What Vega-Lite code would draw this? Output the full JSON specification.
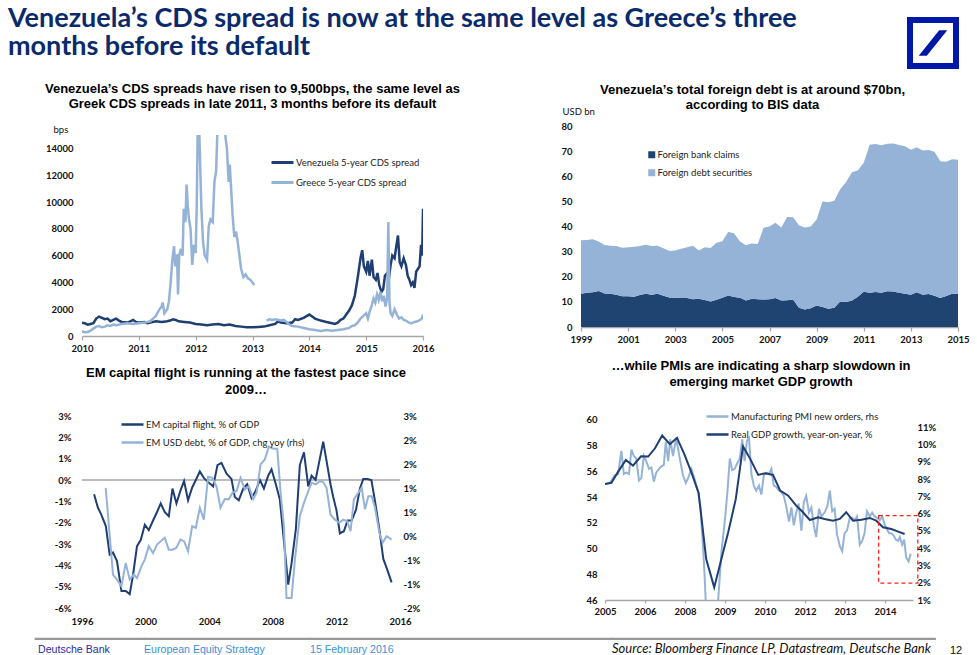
{
  "$schema": "https://vega.github.io/schema/vega-lite/v6.json",
  "background": "white",
  "padding": {"left": 2, "top": 5, "right": 4, "bottom": 4},
  "config": {
    "view": {"stroke": null},
    "font": "Lato",
    "axis": {"labelFont": "Lato", "labelFontWeight": "bold", "labelFontSize": 9.5, "labelColor": "#111111", "grid": false, "domainColor": "#a6a6a6", "domainWidth": 1.5, "tickColor": "#a6a6a6", "tickWidth": 1.2, "titleFont": "Lato", "titleFontWeight": "normal", "titleFontSize": 9.5, "titleColor": "#111111"},
    "legend": {"labelFont": "Lato", "labelFontSize": 9.5, "labelColor": "#222222", "padding": 0, "labelOffset": 1},
    "title": {"font": "Liberation Sans", "fontWeight": "bold", "fontSize": 13, "color": "#000000", "baseline": "bottom", "frame": "group"}
  },
  "datasets": {
    "cds": [
      {"series":"Venezuela 5-year CDS spread","year":2010.0,"bps":1000},{"series":"Venezuela 5-year CDS spread","year":2010.05,"bps":950},{"series":"Venezuela 5-year CDS spread","year":2010.1,"bps":850},{"series":"Venezuela 5-year CDS spread","year":2010.15,"bps":900},{"series":"Venezuela 5-year CDS spread","year":2010.2,"bps":950},{"series":"Venezuela 5-year CDS spread","year":2010.25,"bps":1300},{"series":"Venezuela 5-year CDS spread","year":2010.3,"bps":1450},{"series":"Venezuela 5-year CDS spread","year":2010.35,"bps":1350},{"series":"Venezuela 5-year CDS spread","year":2010.4,"bps":1250},{"series":"Venezuela 5-year CDS spread","year":2010.45,"bps":1300},{"series":"Venezuela 5-year CDS spread","year":2010.5,"bps":1100},{"series":"Venezuela 5-year CDS spread","year":2010.55,"bps":1200},{"series":"Venezuela 5-year CDS spread","year":2010.6,"bps":1300},{"series":"Venezuela 5-year CDS spread","year":2010.65,"bps":1150},{"series":"Venezuela 5-year CDS spread","year":2010.7,"bps":1050},{"series":"Venezuela 5-year CDS spread","year":2010.8,"bps":1000},{"series":"Venezuela 5-year CDS spread","year":2010.85,"bps":1100},{"series":"Venezuela 5-year CDS spread","year":2010.9,"bps":1200},{"series":"Venezuela 5-year CDS spread","year":2010.95,"bps":1050},{"series":"Venezuela 5-year CDS spread","year":2011.0,"bps":1000},{"series":"Venezuela 5-year CDS spread","year":2011.1,"bps":1050},{"series":"Venezuela 5-year CDS spread","year":2011.15,"bps":950},{"series":"Venezuela 5-year CDS spread","year":2011.2,"bps":1000},{"series":"Venezuela 5-year CDS spread","year":2011.3,"bps":1100},{"series":"Venezuela 5-year CDS spread","year":2011.4,"bps":1050},{"series":"Venezuela 5-year CDS spread","year":2011.5,"bps":1100},{"series":"Venezuela 5-year CDS spread","year":2011.55,"bps":1150},{"series":"Venezuela 5-year CDS spread","year":2011.6,"bps":1250},{"series":"Venezuela 5-year CDS spread","year":2011.65,"bps":1200},{"series":"Venezuela 5-year CDS spread","year":2011.7,"bps":1100},{"series":"Venezuela 5-year CDS spread","year":2011.8,"bps":1050},{"series":"Venezuela 5-year CDS spread","year":2011.9,"bps":1000},{"series":"Venezuela 5-year CDS spread","year":2012.0,"bps":900},{"series":"Venezuela 5-year CDS spread","year":2012.1,"bps":850},{"series":"Venezuela 5-year CDS spread","year":2012.2,"bps":800},{"series":"Venezuela 5-year CDS spread","year":2012.3,"bps":850},{"series":"Venezuela 5-year CDS spread","year":2012.4,"bps":900},{"series":"Venezuela 5-year CDS spread","year":2012.5,"bps":800},{"series":"Venezuela 5-year CDS spread","year":2012.6,"bps":850},{"series":"Venezuela 5-year CDS spread","year":2012.7,"bps":750},{"series":"Venezuela 5-year CDS spread","year":2012.8,"bps":700},{"series":"Venezuela 5-year CDS spread","year":2012.9,"bps":650},{"series":"Venezuela 5-year CDS spread","year":2013.0,"bps":650},{"series":"Venezuela 5-year CDS spread","year":2013.1,"bps":680},{"series":"Venezuela 5-year CDS spread","year":2013.2,"bps":700},{"series":"Venezuela 5-year CDS spread","year":2013.3,"bps":800},{"series":"Venezuela 5-year CDS spread","year":2013.4,"bps":900},{"series":"Venezuela 5-year CDS spread","year":2013.45,"bps":1100},{"series":"Venezuela 5-year CDS spread","year":2013.5,"bps":1000},{"series":"Venezuela 5-year CDS spread","year":2013.6,"bps":950},{"series":"Venezuela 5-year CDS spread","year":2013.7,"bps":1000},{"series":"Venezuela 5-year CDS spread","year":2013.75,"bps":1250},{"series":"Venezuela 5-year CDS spread","year":2013.8,"bps":1200},{"series":"Venezuela 5-year CDS spread","year":2013.9,"bps":1350},{"series":"Venezuela 5-year CDS spread","year":2014.0,"bps":1600},{"series":"Venezuela 5-year CDS spread","year":2014.05,"bps":1450},{"series":"Venezuela 5-year CDS spread","year":2014.1,"bps":1300},{"series":"Venezuela 5-year CDS spread","year":2014.2,"bps":1150},{"series":"Venezuela 5-year CDS spread","year":2014.3,"bps":1050},{"series":"Venezuela 5-year CDS spread","year":2014.4,"bps":950},{"series":"Venezuela 5-year CDS spread","year":2014.45,"bps":900},{"series":"Venezuela 5-year CDS spread","year":2014.5,"bps":1000},{"series":"Venezuela 5-year CDS spread","year":2014.55,"bps":1200},{"series":"Venezuela 5-year CDS spread","year":2014.6,"bps":1300},{"series":"Venezuela 5-year CDS spread","year":2014.65,"bps":1600},{"series":"Venezuela 5-year CDS spread","year":2014.7,"bps":1900},{"series":"Venezuela 5-year CDS spread","year":2014.75,"bps":2300},{"series":"Venezuela 5-year CDS spread","year":2014.8,"bps":3000},{"series":"Venezuela 5-year CDS spread","year":2014.83,"bps":3800},{"series":"Venezuela 5-year CDS spread","year":2014.86,"bps":4600},{"series":"Venezuela 5-year CDS spread","year":2014.9,"bps":5800},{"series":"Venezuela 5-year CDS spread","year":2014.93,"bps":6400},{"series":"Venezuela 5-year CDS spread","year":2014.96,"bps":5200},{"series":"Venezuela 5-year CDS spread","year":2015.0,"bps":4800},{"series":"Venezuela 5-year CDS spread","year":2015.03,"bps":5600},{"series":"Venezuela 5-year CDS spread","year":2015.06,"bps":4500},{"series":"Venezuela 5-year CDS spread","year":2015.1,"bps":5700},{"series":"Venezuela 5-year CDS spread","year":2015.13,"bps":4400},{"series":"Venezuela 5-year CDS spread","year":2015.17,"bps":4200},{"series":"Venezuela 5-year CDS spread","year":2015.2,"bps":4700},{"series":"Venezuela 5-year CDS spread","year":2015.23,"bps":3800},{"series":"Venezuela 5-year CDS spread","year":2015.27,"bps":3300},{"series":"Venezuela 5-year CDS spread","year":2015.3,"bps":3500},{"series":"Venezuela 5-year CDS spread","year":2015.33,"bps":4500},{"series":"Venezuela 5-year CDS spread","year":2015.37,"bps":4700},{"series":"Venezuela 5-year CDS spread","year":2015.4,"bps":4300},{"series":"Venezuela 5-year CDS spread","year":2015.43,"bps":5300},{"series":"Venezuela 5-year CDS spread","year":2015.46,"bps":6000},{"series":"Venezuela 5-year CDS spread","year":2015.5,"bps":5800},{"series":"Venezuela 5-year CDS spread","year":2015.53,"bps":6700},{"series":"Venezuela 5-year CDS spread","year":2015.56,"bps":7500},{"series":"Venezuela 5-year CDS spread","year":2015.59,"bps":5500},{"series":"Venezuela 5-year CDS spread","year":2015.62,"bps":5200},{"series":"Venezuela 5-year CDS spread","year":2015.66,"bps":5800},{"series":"Venezuela 5-year CDS spread","year":2015.7,"bps":5300},{"series":"Venezuela 5-year CDS spread","year":2015.73,"bps":4500},{"series":"Venezuela 5-year CDS spread","year":2015.76,"bps":4200},{"series":"Venezuela 5-year CDS spread","year":2015.79,"bps":3800},{"series":"Venezuela 5-year CDS spread","year":2015.82,"bps":4000},{"series":"Venezuela 5-year CDS spread","year":2015.85,"bps":3600},{"series":"Venezuela 5-year CDS spread","year":2015.88,"bps":4800},{"series":"Venezuela 5-year CDS spread","year":2015.91,"bps":5000},{"series":"Venezuela 5-year CDS spread","year":2015.94,"bps":5200},{"series":"Venezuela 5-year CDS spread","year":2015.965,"bps":6800},{"series":"Venezuela 5-year CDS spread","year":2015.985,"bps":6000},{"series":"Venezuela 5-year CDS spread","year":2016.0,"bps":9500},
      {"series":"Greece 5-year CDS spread","year":2010.0,"bps":350},{"series":"Greece 5-year CDS spread","year":2010.05,"bps":280},{"series":"Greece 5-year CDS spread","year":2010.1,"bps":300},{"series":"Greece 5-year CDS spread","year":2010.15,"bps":400},{"series":"Greece 5-year CDS spread","year":2010.2,"bps":550},{"series":"Greece 5-year CDS spread","year":2010.25,"bps":700},{"series":"Greece 5-year CDS spread","year":2010.3,"bps":750},{"series":"Greece 5-year CDS spread","year":2010.35,"bps":650},{"series":"Greece 5-year CDS spread","year":2010.4,"bps":700},{"series":"Greece 5-year CDS spread","year":2010.45,"bps":800},{"series":"Greece 5-year CDS spread","year":2010.5,"bps":750},{"series":"Greece 5-year CDS spread","year":2010.55,"bps":850},{"series":"Greece 5-year CDS spread","year":2010.6,"bps":800},{"series":"Greece 5-year CDS spread","year":2010.7,"bps":900},{"series":"Greece 5-year CDS spread","year":2010.8,"bps":950},{"series":"Greece 5-year CDS spread","year":2010.9,"bps":900},{"series":"Greece 5-year CDS spread","year":2011.0,"bps":950},{"series":"Greece 5-year CDS spread","year":2011.1,"bps":1000},{"series":"Greece 5-year CDS spread","year":2011.2,"bps":1100},{"series":"Greece 5-year CDS spread","year":2011.25,"bps":1300},{"series":"Greece 5-year CDS spread","year":2011.3,"bps":1500},{"series":"Greece 5-year CDS spread","year":2011.35,"bps":1900},{"series":"Greece 5-year CDS spread","year":2011.4,"bps":2200},{"series":"Greece 5-year CDS spread","year":2011.42,"bps":2500},{"series":"Greece 5-year CDS spread","year":2011.45,"bps":1700},{"series":"Greece 5-year CDS spread","year":2011.5,"bps":2000},{"series":"Greece 5-year CDS spread","year":2011.53,"bps":2600},{"series":"Greece 5-year CDS spread","year":2011.56,"bps":4000},{"series":"Greece 5-year CDS spread","year":2011.59,"bps":5700},{"series":"Greece 5-year CDS spread","year":2011.62,"bps":6700},{"series":"Greece 5-year CDS spread","year":2011.64,"bps":5200},{"series":"Greece 5-year CDS spread","year":2011.67,"bps":6100},{"series":"Greece 5-year CDS spread","year":2011.69,"bps":3100},{"series":"Greece 5-year CDS spread","year":2011.71,"bps":6000},{"series":"Greece 5-year CDS spread","year":2011.74,"bps":6500},{"series":"Greece 5-year CDS spread","year":2011.77,"bps":6000},{"series":"Greece 5-year CDS spread","year":2011.79,"bps":9500},{"series":"Greece 5-year CDS spread","year":2011.82,"bps":8500},{"series":"Greece 5-year CDS spread","year":2011.84,"bps":11300},{"series":"Greece 5-year CDS spread","year":2011.86,"bps":9800},{"series":"Greece 5-year CDS spread","year":2011.88,"bps":8800},{"series":"Greece 5-year CDS spread","year":2011.91,"bps":8000},{"series":"Greece 5-year CDS spread","year":2011.94,"bps":5300},{"series":"Greece 5-year CDS spread","year":2011.97,"bps":6800},{"series":"Greece 5-year CDS spread","year":2012.0,"bps":6200},{"series":"Greece 5-year CDS spread","year":2012.02,"bps":10000},{"series":"Greece 5-year CDS spread","year":2012.035,"bps":15000},{"series":"Greece 5-year CDS spread","year":2012.05,"bps":null},{"series":"Greece 5-year CDS spread","year":2012.065,"bps":15000},{"series":"Greece 5-year CDS spread","year":2012.1,"bps":9600},{"series":"Greece 5-year CDS spread","year":2012.13,"bps":7000},{"series":"Greece 5-year CDS spread","year":2012.16,"bps":6000},{"series":"Greece 5-year CDS spread","year":2012.2,"bps":5700},{"series":"Greece 5-year CDS spread","year":2012.23,"bps":8200},{"series":"Greece 5-year CDS spread","year":2012.26,"bps":8700},{"series":"Greece 5-year CDS spread","year":2012.3,"bps":8500},{"series":"Greece 5-year CDS spread","year":2012.33,"bps":11500},{"series":"Greece 5-year CDS spread","year":2012.36,"bps":12300},{"series":"Greece 5-year CDS spread","year":2012.38,"bps":15000},{"series":"Greece 5-year CDS spread","year":2012.45,"bps":null},{"series":"Greece 5-year CDS spread","year":2012.52,"bps":15000},{"series":"Greece 5-year CDS spread","year":2012.55,"bps":14000},{"series":"Greece 5-year CDS spread","year":2012.58,"bps":11500},{"series":"Greece 5-year CDS spread","year":2012.6,"bps":12800},{"series":"Greece 5-year CDS spread","year":2012.62,"bps":11300},{"series":"Greece 5-year CDS spread","year":2012.65,"bps":9000},{"series":"Greece 5-year CDS spread","year":2012.68,"bps":7400},{"series":"Greece 5-year CDS spread","year":2012.71,"bps":7800},{"series":"Greece 5-year CDS spread","year":2012.74,"bps":7000},{"series":"Greece 5-year CDS spread","year":2012.77,"bps":6000},{"series":"Greece 5-year CDS spread","year":2012.8,"bps":5000},{"series":"Greece 5-year CDS spread","year":2012.84,"bps":4400},{"series":"Greece 5-year CDS spread","year":2012.88,"bps":4600},{"series":"Greece 5-year CDS spread","year":2012.92,"bps":4300},{"series":"Greece 5-year CDS spread","year":2012.96,"bps":4200},{"series":"Greece 5-year CDS spread","year":2013.0,"bps":4000},{"series":"Greece 5-year CDS spread","year":2013.03,"bps":3800},{"series":"Greece 5-year CDS spread","year":2013.15,"bps":null},{"series":"Greece 5-year CDS spread","year":2013.25,"bps":1150},{"series":"Greece 5-year CDS spread","year":2013.3,"bps":1250},{"series":"Greece 5-year CDS spread","year":2013.35,"bps":1200},{"series":"Greece 5-year CDS spread","year":2013.4,"bps":1250},{"series":"Greece 5-year CDS spread","year":2013.5,"bps":1150},{"series":"Greece 5-year CDS spread","year":2013.55,"bps":1200},{"series":"Greece 5-year CDS spread","year":2013.6,"bps":1050},{"series":"Greece 5-year CDS spread","year":2013.65,"bps":850},{"series":"Greece 5-year CDS spread","year":2013.7,"bps":750},{"series":"Greece 5-year CDS spread","year":2013.8,"bps":700},{"series":"Greece 5-year CDS spread","year":2013.9,"bps":600},{"series":"Greece 5-year CDS spread","year":2014.0,"bps":500},{"series":"Greece 5-year CDS spread","year":2014.1,"bps":450},{"series":"Greece 5-year CDS spread","year":2014.2,"bps":380},{"series":"Greece 5-year CDS spread","year":2014.3,"bps":450},{"series":"Greece 5-year CDS spread","year":2014.4,"bps":400},{"series":"Greece 5-year CDS spread","year":2014.5,"bps":450},{"series":"Greece 5-year CDS spread","year":2014.6,"bps":500},{"series":"Greece 5-year CDS spread","year":2014.7,"bps":600},{"series":"Greece 5-year CDS spread","year":2014.75,"bps":750},{"series":"Greece 5-year CDS spread","year":2014.8,"bps":800},{"series":"Greece 5-year CDS spread","year":2014.85,"bps":1000},{"series":"Greece 5-year CDS spread","year":2014.9,"bps":1300},{"series":"Greece 5-year CDS spread","year":2014.95,"bps":1500},{"series":"Greece 5-year CDS spread","year":2015.0,"bps":1700},{"series":"Greece 5-year CDS spread","year":2015.03,"bps":1300},{"series":"Greece 5-year CDS spread","year":2015.06,"bps":1800},{"series":"Greece 5-year CDS spread","year":2015.1,"bps":2300},{"series":"Greece 5-year CDS spread","year":2015.13,"bps":2800},{"series":"Greece 5-year CDS spread","year":2015.16,"bps":2500},{"series":"Greece 5-year CDS spread","year":2015.19,"bps":3100},{"series":"Greece 5-year CDS spread","year":2015.22,"bps":2700},{"series":"Greece 5-year CDS spread","year":2015.25,"bps":3300},{"series":"Greece 5-year CDS spread","year":2015.28,"bps":2600},{"series":"Greece 5-year CDS spread","year":2015.31,"bps":3000},{"series":"Greece 5-year CDS spread","year":2015.34,"bps":2200},{"series":"Greece 5-year CDS spread","year":2015.37,"bps":2900},{"series":"Greece 5-year CDS spread","year":2015.39,"bps":8500},{"series":"Greece 5-year CDS spread","year":2015.41,"bps":2500},{"series":"Greece 5-year CDS spread","year":2015.43,"bps":1700},{"series":"Greece 5-year CDS spread","year":2015.46,"bps":1500},{"series":"Greece 5-year CDS spread","year":2015.5,"bps":2000},{"series":"Greece 5-year CDS spread","year":2015.54,"bps":1600},{"series":"Greece 5-year CDS spread","year":2015.58,"bps":1300},{"series":"Greece 5-year CDS spread","year":2015.62,"bps":1400},{"series":"Greece 5-year CDS spread","year":2015.66,"bps":1200},{"series":"Greece 5-year CDS spread","year":2015.7,"bps":1150},{"series":"Greece 5-year CDS spread","year":2015.75,"bps":1000},{"series":"Greece 5-year CDS spread","year":2015.8,"bps":950},{"series":"Greece 5-year CDS spread","year":2015.85,"bps":1050},{"series":"Greece 5-year CDS spread","year":2015.9,"bps":1100},{"series":"Greece 5-year CDS spread","year":2015.95,"bps":1200},{"series":"Greece 5-year CDS spread","year":2015.98,"bps":1300},{"series":"Greece 5-year CDS spread","year":2016.0,"bps":1600}
    ],
    "debt": [
      {"year":1999.0,"Foreign bank claims":13.2,"Foreign debt securities":21.3},{"year":1999.25,"Foreign bank claims":13.6,"Foreign debt securities":21.0},{"year":1999.5,"Foreign bank claims":13.8,"Foreign debt securities":21.1},{"year":1999.75,"Foreign bank claims":14.3,"Foreign debt securities":19.7},{"year":2000.0,"Foreign bank claims":13.3,"Foreign debt securities":19.3},{"year":2000.25,"Foreign bank claims":13.2,"Foreign debt securities":19.1},{"year":2000.5,"Foreign bank claims":12.8,"Foreign debt securities":19.4},{"year":2000.75,"Foreign bank claims":12.2,"Foreign debt securities":19.3},{"year":2001.0,"Foreign bank claims":12.2,"Foreign debt securities":19.5},{"year":2001.25,"Foreign bank claims":12.0,"Foreign debt securities":19.9},{"year":2001.5,"Foreign bank claims":12.7,"Foreign debt securities":19.5},{"year":2001.75,"Foreign bank claims":13.2,"Foreign debt securities":19.5},{"year":2002.0,"Foreign bank claims":12.8,"Foreign debt securities":19.4},{"year":2002.25,"Foreign bank claims":13.2,"Foreign debt securities":19.1},{"year":2002.5,"Foreign bank claims":12.4,"Foreign debt securities":18.9},{"year":2002.75,"Foreign bank claims":11.7,"Foreign debt securities":18.5},{"year":2003.0,"Foreign bank claims":11.6,"Foreign debt securities":18.8},{"year":2003.25,"Foreign bank claims":11.5,"Foreign debt securities":19.6},{"year":2003.5,"Foreign bank claims":11.5,"Foreign debt securities":20.2},{"year":2003.75,"Foreign bank claims":11.0,"Foreign debt securities":21.3},{"year":2004.0,"Foreign bank claims":11.2,"Foreign debt securities":19.2},{"year":2004.25,"Foreign bank claims":10.7,"Foreign debt securities":21.0},{"year":2004.5,"Foreign bank claims":10.1,"Foreign debt securities":21.3},{"year":2004.75,"Foreign bank claims":10.8,"Foreign debt securities":22.7},{"year":2005.0,"Foreign bank claims":11.6,"Foreign debt securities":22.5},{"year":2005.25,"Foreign bank claims":12.5,"Foreign debt securities":25.4},{"year":2005.5,"Foreign bank claims":11.9,"Foreign debt securities":25.3},{"year":2005.75,"Foreign bank claims":11.6,"Foreign debt securities":22.4},{"year":2006.0,"Foreign bank claims":10.5,"Foreign debt securities":22.0},{"year":2006.25,"Foreign bank claims":11.2,"Foreign debt securities":22.0},{"year":2006.5,"Foreign bank claims":11.0,"Foreign debt securities":22.0},{"year":2006.75,"Foreign bank claims":10.9,"Foreign debt securities":28.6},{"year":2007.0,"Foreign bank claims":11.0,"Foreign debt securities":29.0},{"year":2007.25,"Foreign bank claims":11.5,"Foreign debt securities":30.0},{"year":2007.5,"Foreign bank claims":10.5,"Foreign debt securities":29.1},{"year":2007.75,"Foreign bank claims":10.6,"Foreign debt securities":33.2},{"year":2008.0,"Foreign bank claims":10.9,"Foreign debt securities":32.8},{"year":2008.25,"Foreign bank claims":7.7,"Foreign debt securities":32.8},{"year":2008.5,"Foreign bank claims":7.0,"Foreign debt securities":32.6},{"year":2008.75,"Foreign bank claims":7.5,"Foreign debt securities":32.5},{"year":2009.0,"Foreign bank claims":8.6,"Foreign debt securities":34.2},{"year":2009.25,"Foreign bank claims":8.0,"Foreign debt securities":42.0},{"year":2009.5,"Foreign bank claims":7.3,"Foreign debt securities":42.4},{"year":2009.75,"Foreign bank claims":7.7,"Foreign debt securities":42.5},{"year":2010.0,"Foreign bank claims":10.1,"Foreign debt securities":44.7},{"year":2010.25,"Foreign bank claims":10.0,"Foreign debt securities":47.7},{"year":2010.5,"Foreign bank claims":10.5,"Foreign debt securities":51.1},{"year":2010.75,"Foreign bank claims":12.0,"Foreign debt securities":50.3},{"year":2011.0,"Foreign bank claims":14.0,"Foreign debt securities":51.4},{"year":2011.25,"Foreign bank claims":13.6,"Foreign debt securities":58.9},{"year":2011.5,"Foreign bank claims":13.9,"Foreign debt securities":58.9},{"year":2011.75,"Foreign bank claims":13.6,"Foreign debt securities":58.7},{"year":2012.0,"Foreign bank claims":14.2,"Foreign debt securities":58.7},{"year":2012.25,"Foreign bank claims":14.1,"Foreign debt securities":58.9},{"year":2012.5,"Foreign bank claims":13.6,"Foreign debt securities":58.8},{"year":2012.75,"Foreign bank claims":13.2,"Foreign debt securities":58.7},{"year":2013.0,"Foreign bank claims":12.8,"Foreign debt securities":57.7},{"year":2013.25,"Foreign bank claims":13.8,"Foreign debt securities":57.7},{"year":2013.5,"Foreign bank claims":12.8,"Foreign debt securities":57.4},{"year":2013.75,"Foreign bank claims":13.1,"Foreign debt securities":57.3},{"year":2014.0,"Foreign bank claims":12.4,"Foreign debt securities":57.4},{"year":2014.25,"Foreign bank claims":11.5,"Foreign debt securities":54.5},{"year":2014.5,"Foreign bank claims":12.3,"Foreign debt securities":53.5},{"year":2014.75,"Foreign bank claims":13.2,"Foreign debt securities":53.6},{"year":2015.0,"Foreign bank claims":13.2,"Foreign debt securities":53.4}
    ],
    "flight": [
      {"series":"EM capital flight, % of GDP","year":1996.76,"value":-0.67},{"series":"EM capital flight, % of GDP","year":1997.0,"value":-1.3},{"series":"EM capital flight, % of GDP","year":1997.2,"value":-1.6},{"series":"EM capital flight, % of GDP","year":1997.5,"value":-2.16},{"series":"EM capital flight, % of GDP","year":1997.74,"value":-3.5},{"series":"EM capital flight, % of GDP","year":1997.95,"value":-3.4},{"series":"EM capital flight, % of GDP","year":1998.2,"value":-3.8},{"series":"EM capital flight, % of GDP","year":1998.48,"value":-5.2},{"series":"EM capital flight, % of GDP","year":1998.75,"value":-5.2},{"series":"EM capital flight, % of GDP","year":1999.0,"value":-5.35},{"series":"EM capital flight, % of GDP","year":1999.2,"value":-4.5},{"series":"EM capital flight, % of GDP","year":1999.46,"value":-3.1},{"series":"EM capital flight, % of GDP","year":1999.7,"value":-2.8},{"series":"EM capital flight, % of GDP","year":1999.95,"value":-2.1},{"series":"EM capital flight, % of GDP","year":2000.2,"value":-2.35},{"series":"EM capital flight, % of GDP","year":2000.47,"value":-1.9},{"series":"EM capital flight, % of GDP","year":2000.72,"value":-1.5},{"series":"EM capital flight, % of GDP","year":2000.95,"value":-1.1},{"series":"EM capital flight, % of GDP","year":2001.2,"value":-1.5},{"series":"EM capital flight, % of GDP","year":2001.46,"value":-1.7},{"series":"EM capital flight, % of GDP","year":2001.69,"value":-0.4},{"series":"EM capital flight, % of GDP","year":2001.94,"value":-1.1},{"series":"EM capital flight, % of GDP","year":2002.19,"value":-0.5},{"series":"EM capital flight, % of GDP","year":2002.42,"value":-0.05},{"series":"EM capital flight, % of GDP","year":2002.67,"value":-0.95},{"series":"EM capital flight, % of GDP","year":2002.93,"value":-0.35},{"series":"EM capital flight, % of GDP","year":2003.16,"value":0.0},{"series":"EM capital flight, % of GDP","year":2003.41,"value":0.4},{"series":"EM capital flight, % of GDP","year":2003.66,"value":0.1},{"series":"EM capital flight, % of GDP","year":2003.93,"value":-0.1},{"series":"EM capital flight, % of GDP","year":2004.25,"value":-0.3},{"series":"EM capital flight, % of GDP","year":2004.52,"value":0.7},{"series":"EM capital flight, % of GDP","year":2004.77,"value":0.8},{"series":"EM capital flight, % of GDP","year":2005.09,"value":0.3},{"series":"EM capital flight, % of GDP","year":2005.4,"value":0.05},{"series":"EM capital flight, % of GDP","year":2005.61,"value":-0.8},{"series":"EM capital flight, % of GDP","year":2005.86,"value":-0.95},{"series":"EM capital flight, % of GDP","year":2006.14,"value":-0.4},{"series":"EM capital flight, % of GDP","year":2006.39,"value":-0.2},{"series":"EM capital flight, % of GDP","year":2006.66,"value":-0.85},{"series":"EM capital flight, % of GDP","year":2006.93,"value":-0.5},{"series":"EM capital flight, % of GDP","year":2007.19,"value":0.0},{"series":"EM capital flight, % of GDP","year":2007.44,"value":-0.4},{"series":"EM capital flight, % of GDP","year":2007.71,"value":0.2},{"series":"EM capital flight, % of GDP","year":2007.92,"value":0.5},{"series":"EM capital flight, % of GDP","year":2008.19,"value":-0.2},{"series":"EM capital flight, % of GDP","year":2008.44,"value":-0.9},{"series":"EM capital flight, % of GDP","year":2008.97,"value":-4.9},{"series":"EM capital flight, % of GDP","year":2009.18,"value":-3.9},{"series":"EM capital flight, % of GDP","year":2009.45,"value":-2.3},{"series":"EM capital flight, % of GDP","year":2009.7,"value":0.7},{"series":"EM capital flight, % of GDP","year":2009.96,"value":1.3},{"series":"EM capital flight, % of GDP","year":2010.23,"value":-0.3},{"series":"EM capital flight, % of GDP","year":2010.44,"value":0.2},{"series":"EM capital flight, % of GDP","year":2010.69,"value":0.0},{"series":"EM capital flight, % of GDP","year":2010.96,"value":1.0},{"series":"EM capital flight, % of GDP","year":2011.17,"value":1.8},{"series":"EM capital flight, % of GDP","year":2011.38,"value":0.9},{"series":"EM capital flight, % of GDP","year":2011.63,"value":-0.2},{"series":"EM capital flight, % of GDP","year":2011.8,"value":-0.8},{"series":"EM capital flight, % of GDP","year":2012.0,"value":-1.4},{"series":"EM capital flight, % of GDP","year":2012.22,"value":-2.5},{"series":"EM capital flight, % of GDP","year":2012.47,"value":-2.4},{"series":"EM capital flight, % of GDP","year":2012.7,"value":-1.9},{"series":"EM capital flight, % of GDP","year":2012.96,"value":-1.9},{"series":"EM capital flight, % of GDP","year":2013.23,"value":-1.4},{"series":"EM capital flight, % of GDP","year":2013.48,"value":-0.4},{"series":"EM capital flight, % of GDP","year":2013.69,"value":0.05},{"series":"EM capital flight, % of GDP","year":2013.94,"value":0.05},{"series":"EM capital flight, % of GDP","year":2014.2,"value":0.0},{"series":"EM capital flight, % of GDP","year":2014.43,"value":-1.0},{"series":"EM capital flight, % of GDP","year":2014.7,"value":-2.3},{"series":"EM capital flight, % of GDP","year":2014.95,"value":-3.7},{"series":"EM capital flight, % of GDP","year":2015.2,"value":-4.2},{"series":"EM capital flight, % of GDP","year":2015.47,"value":-4.8},
      {"series":"EM USD debt, % of GDP, chg yoy (rhs)","year":1997.49,"value":1.13},{"series":"EM USD debt, % of GDP, chg yoy (rhs)","year":1997.95,"value":-1.13},{"series":"EM USD debt, % of GDP, chg yoy (rhs)","year":1998.27,"value":-1.3},{"series":"EM USD debt, % of GDP, chg yoy (rhs)","year":1998.48,"value":-1.43},{"series":"EM USD debt, % of GDP, chg yoy (rhs)","year":1998.75,"value":-0.83},{"series":"EM USD debt, % of GDP, chg yoy (rhs)","year":1999.0,"value":-1.26},{"series":"EM USD debt, % of GDP, chg yoy (rhs)","year":1999.25,"value":-1.13},{"series":"EM USD debt, % of GDP, chg yoy (rhs)","year":1999.46,"value":-1.22},{"series":"EM USD debt, % of GDP, chg yoy (rhs)","year":1999.74,"value":-0.91},{"series":"EM USD debt, % of GDP, chg yoy (rhs)","year":1999.95,"value":-0.74},{"series":"EM USD debt, % of GDP, chg yoy (rhs)","year":2000.2,"value":-0.39},{"series":"EM USD debt, % of GDP, chg yoy (rhs)","year":2000.47,"value":-0.57},{"series":"EM USD debt, % of GDP, chg yoy (rhs)","year":2000.72,"value":-0.35},{"series":"EM USD debt, % of GDP, chg yoy (rhs)","year":2000.95,"value":-0.26},{"series":"EM USD debt, % of GDP, chg yoy (rhs)","year":2001.2,"value":-0.17},{"series":"EM USD debt, % of GDP, chg yoy (rhs)","year":2001.46,"value":-0.48},{"series":"EM USD debt, % of GDP, chg yoy (rhs)","year":2001.69,"value":-0.48},{"series":"EM USD debt, % of GDP, chg yoy (rhs)","year":2001.94,"value":-0.43},{"series":"EM USD debt, % of GDP, chg yoy (rhs)","year":2002.19,"value":-0.22},{"series":"EM USD debt, % of GDP, chg yoy (rhs)","year":2002.42,"value":-0.26},{"series":"EM USD debt, % of GDP, chg yoy (rhs)","year":2002.67,"value":-0.52},{"series":"EM USD debt, % of GDP, chg yoy (rhs)","year":2002.93,"value":0.13},{"series":"EM USD debt, % of GDP, chg yoy (rhs)","year":2003.16,"value":0.09},{"series":"EM USD debt, % of GDP, chg yoy (rhs)","year":2003.41,"value":0.61},{"series":"EM USD debt, % of GDP, chg yoy (rhs)","year":2003.66,"value":0.3},{"series":"EM USD debt, % of GDP, chg yoy (rhs)","year":2003.93,"value":1.42},{"series":"EM USD debt, % of GDP, chg yoy (rhs)","year":2004.2,"value":1.39},{"series":"EM USD debt, % of GDP, chg yoy (rhs)","year":2004.46,"value":1.16},{"series":"EM USD debt, % of GDP, chg yoy (rhs)","year":2004.71,"value":0.61},{"series":"EM USD debt, % of GDP, chg yoy (rhs)","year":2004.98,"value":0.84},{"series":"EM USD debt, % of GDP, chg yoy (rhs)","year":2005.23,"value":0.83},{"series":"EM USD debt, % of GDP, chg yoy (rhs)","year":2005.46,"value":1.0},{"series":"EM USD debt, % of GDP, chg yoy (rhs)","year":2005.72,"value":1.04},{"series":"EM USD debt, % of GDP, chg yoy (rhs)","year":2005.97,"value":1.39},{"series":"EM USD debt, % of GDP, chg yoy (rhs)","year":2006.24,"value":1.09},{"series":"EM USD debt, % of GDP, chg yoy (rhs)","year":2006.49,"value":1.17},{"series":"EM USD debt, % of GDP, chg yoy (rhs)","year":2006.77,"value":0.84},{"series":"EM USD debt, % of GDP, chg yoy (rhs)","year":2006.98,"value":1.0},{"series":"EM USD debt, % of GDP, chg yoy (rhs)","year":2007.23,"value":1.74},{"series":"EM USD debt, % of GDP, chg yoy (rhs)","year":2007.5,"value":1.87},{"series":"EM USD debt, % of GDP, chg yoy (rhs)","year":2007.75,"value":2.2},{"series":"EM USD debt, % of GDP, chg yoy (rhs)","year":2008.03,"value":2.15},{"series":"EM USD debt, % of GDP, chg yoy (rhs)","year":2008.28,"value":2.15},{"series":"EM USD debt, % of GDP, chg yoy (rhs)","year":2008.49,"value":1.0},{"series":"EM USD debt, % of GDP, chg yoy (rhs)","year":2008.7,"value":0.13},{"series":"EM USD debt, % of GDP, chg yoy (rhs)","year":2008.86,"value":-1.74},{"series":"EM USD debt, % of GDP, chg yoy (rhs)","year":2009.18,"value":-1.74},{"series":"EM USD debt, % of GDP, chg yoy (rhs)","year":2009.39,"value":-0.74},{"series":"EM USD debt, % of GDP, chg yoy (rhs)","year":2009.7,"value":0.39},{"series":"EM USD debt, % of GDP, chg yoy (rhs)","year":2009.96,"value":0.74},{"series":"EM USD debt, % of GDP, chg yoy (rhs)","year":2010.23,"value":1.04},{"series":"EM USD debt, % of GDP, chg yoy (rhs)","year":2010.44,"value":1.26},{"series":"EM USD debt, % of GDP, chg yoy (rhs)","year":2010.69,"value":1.22},{"series":"EM USD debt, % of GDP, chg yoy (rhs)","year":2010.96,"value":1.3},{"series":"EM USD debt, % of GDP, chg yoy (rhs)","year":2011.17,"value":1.28},{"series":"EM USD debt, % of GDP, chg yoy (rhs)","year":2011.38,"value":1.13},{"series":"EM USD debt, % of GDP, chg yoy (rhs)","year":2011.63,"value":0.43},{"series":"EM USD debt, % of GDP, chg yoy (rhs)","year":2011.91,"value":0.3},{"series":"EM USD debt, % of GDP, chg yoy (rhs)","year":2012.18,"value":0.22},{"series":"EM USD debt, % of GDP, chg yoy (rhs)","year":2012.43,"value":0.3},{"series":"EM USD debt, % of GDP, chg yoy (rhs)","year":2012.68,"value":0.26},{"series":"EM USD debt, % of GDP, chg yoy (rhs)","year":2012.89,"value":0.0},{"series":"EM USD debt, % of GDP, chg yoy (rhs)","year":2013.1,"value":0.83},{"series":"EM USD debt, % of GDP, chg yoy (rhs)","year":2013.38,"value":1.0},{"series":"EM USD debt, % of GDP, chg yoy (rhs)","year":2013.59,"value":1.13},{"series":"EM USD debt, % of GDP, chg yoy (rhs)","year":2013.8,"value":0.57},{"series":"EM USD debt, % of GDP, chg yoy (rhs)","year":2014.01,"value":0.91},{"series":"EM USD debt, % of GDP, chg yoy (rhs)","year":2014.22,"value":0.91},{"series":"EM USD debt, % of GDP, chg yoy (rhs)","year":2014.43,"value":0.61},{"series":"EM USD debt, % of GDP, chg yoy (rhs)","year":2014.7,"value":-0.04},{"series":"EM USD debt, % of GDP, chg yoy (rhs)","year":2014.91,"value":-0.3},{"series":"EM USD debt, % of GDP, chg yoy (rhs)","year":2015.16,"value":-0.13},{"series":"EM USD debt, % of GDP, chg yoy (rhs)","year":2015.47,"value":-0.22}
    ],
    "pmi": [
      {"series":"Manufacturing PMI new orders, rhs","t":0,"value":55.0},{"series":"Manufacturing PMI new orders, rhs","t":0.12,"value":55.1},{"series":"Manufacturing PMI new orders, rhs","t":0.24,"value":55.7},{"series":"Manufacturing PMI new orders, rhs","t":0.33,"value":55.8},{"series":"Manufacturing PMI new orders, rhs","t":0.41,"value":57.6},{"series":"Manufacturing PMI new orders, rhs","t":0.47,"value":55.8},{"series":"Manufacturing PMI new orders, rhs","t":0.53,"value":55.9},{"series":"Manufacturing PMI new orders, rhs","t":0.6,"value":55.8},{"series":"Manufacturing PMI new orders, rhs","t":0.66,"value":57.7},{"series":"Manufacturing PMI new orders, rhs","t":0.72,"value":57.2},{"series":"Manufacturing PMI new orders, rhs","t":0.78,"value":57.0},{"series":"Manufacturing PMI new orders, rhs","t":0.85,"value":55.3},{"series":"Manufacturing PMI new orders, rhs","t":0.91,"value":55.5},{"series":"Manufacturing PMI new orders, rhs","t":0.97,"value":57.2},{"series":"Manufacturing PMI new orders, rhs","t":1.03,"value":56.8},{"series":"Manufacturing PMI new orders, rhs","t":1.1,"value":56.2},{"series":"Manufacturing PMI new orders, rhs","t":1.16,"value":56.3},{"series":"Manufacturing PMI new orders, rhs","t":1.22,"value":55.2},{"series":"Manufacturing PMI new orders, rhs","t":1.28,"value":55.9},{"series":"Manufacturing PMI new orders, rhs","t":1.35,"value":56.2},{"series":"Manufacturing PMI new orders, rhs","t":1.41,"value":56.4},{"series":"Manufacturing PMI new orders, rhs","t":1.47,"value":56.5},{"series":"Manufacturing PMI new orders, rhs","t":1.52,"value":58.3},{"series":"Manufacturing PMI new orders, rhs","t":1.58,"value":56.8},{"series":"Manufacturing PMI new orders, rhs","t":1.63,"value":58.5},{"series":"Manufacturing PMI new orders, rhs","t":1.7,"value":57.2},{"series":"Manufacturing PMI new orders, rhs","t":1.78,"value":58.6},{"series":"Manufacturing PMI new orders, rhs","t":1.87,"value":57.0},{"series":"Manufacturing PMI new orders, rhs","t":1.95,"value":55.7},{"series":"Manufacturing PMI new orders, rhs","t":2.02,"value":55.1},{"series":"Manufacturing PMI new orders, rhs","t":2.08,"value":55.5},{"series":"Manufacturing PMI new orders, rhs","t":2.16,"value":56.2},{"series":"Manufacturing PMI new orders, rhs","t":2.24,"value":55.4},{"series":"Manufacturing PMI new orders, rhs","t":2.33,"value":54.4},{"series":"Manufacturing PMI new orders, rhs","t":2.39,"value":53.1},{"series":"Manufacturing PMI new orders, rhs","t":2.45,"value":50.2},{"series":"Manufacturing PMI new orders, rhs","t":2.49,"value":47.9},{"series":"Manufacturing PMI new orders, rhs","t":2.53,"value":45.0},{"series":"Manufacturing PMI new orders, rhs","t":2.62,"value":44.0},{"series":"Manufacturing PMI new orders, rhs","t":2.7,"value":44.0},{"series":"Manufacturing PMI new orders, rhs","t":2.77,"value":44.5},{"series":"Manufacturing PMI new orders, rhs","t":2.83,"value":46.0},{"series":"Manufacturing PMI new orders, rhs","t":2.91,"value":49.7},{"series":"Manufacturing PMI new orders, rhs","t":3.0,"value":52.3},{"series":"Manufacturing PMI new orders, rhs","t":3.06,"value":54.4},{"series":"Manufacturing PMI new orders, rhs","t":3.12,"value":57.0},{"series":"Manufacturing PMI new orders, rhs","t":3.18,"value":56.1},{"series":"Manufacturing PMI new orders, rhs","t":3.24,"value":56.2},{"series":"Manufacturing PMI new orders, rhs","t":3.3,"value":56.6},{"series":"Manufacturing PMI new orders, rhs","t":3.37,"value":57.0},{"series":"Manufacturing PMI new orders, rhs","t":3.43,"value":58.5},{"series":"Manufacturing PMI new orders, rhs","t":3.49,"value":56.8},{"series":"Manufacturing PMI new orders, rhs","t":3.55,"value":58.4},{"series":"Manufacturing PMI new orders, rhs","t":3.6,"value":58.6},{"series":"Manufacturing PMI new orders, rhs","t":3.66,"value":55.8},{"series":"Manufacturing PMI new orders, rhs","t":3.72,"value":54.9},{"series":"Manufacturing PMI new orders, rhs","t":3.78,"value":54.5},{"series":"Manufacturing PMI new orders, rhs","t":3.85,"value":54.9},{"series":"Manufacturing PMI new orders, rhs","t":3.91,"value":54.2},{"series":"Manufacturing PMI new orders, rhs","t":3.97,"value":55.7},{"series":"Manufacturing PMI new orders, rhs","t":4.03,"value":55.9},{"series":"Manufacturing PMI new orders, rhs","t":4.1,"value":55.8},{"series":"Manufacturing PMI new orders, rhs","t":4.16,"value":56.2},{"series":"Manufacturing PMI new orders, rhs","t":4.22,"value":54.9},{"series":"Manufacturing PMI new orders, rhs","t":4.28,"value":54.8},{"series":"Manufacturing PMI new orders, rhs","t":4.35,"value":54.5},{"series":"Manufacturing PMI new orders, rhs","t":4.41,"value":54.4},{"series":"Manufacturing PMI new orders, rhs","t":4.47,"value":54.1},{"series":"Manufacturing PMI new orders, rhs","t":4.53,"value":53.3},{"series":"Manufacturing PMI new orders, rhs","t":4.6,"value":52.1},{"series":"Manufacturing PMI new orders, rhs","t":4.66,"value":53.2},{"series":"Manufacturing PMI new orders, rhs","t":4.72,"value":51.8},{"series":"Manufacturing PMI new orders, rhs","t":4.78,"value":52.8},{"series":"Manufacturing PMI new orders, rhs","t":4.84,"value":53.5},{"series":"Manufacturing PMI new orders, rhs","t":4.91,"value":51.4},{"series":"Manufacturing PMI new orders, rhs","t":4.97,"value":53.6},{"series":"Manufacturing PMI new orders, rhs","t":5.03,"value":54.1},{"series":"Manufacturing PMI new orders, rhs","t":5.1,"value":52.8},{"series":"Manufacturing PMI new orders, rhs","t":5.16,"value":53.2},{"series":"Manufacturing PMI new orders, rhs","t":5.22,"value":51.8},{"series":"Manufacturing PMI new orders, rhs","t":5.28,"value":50.9},{"series":"Manufacturing PMI new orders, rhs","t":5.35,"value":53.1},{"series":"Manufacturing PMI new orders, rhs","t":5.41,"value":52.5},{"series":"Manufacturing PMI new orders, rhs","t":5.49,"value":52.8},{"series":"Manufacturing PMI new orders, rhs","t":5.56,"value":53.3},{"series":"Manufacturing PMI new orders, rhs","t":5.62,"value":54.5},{"series":"Manufacturing PMI new orders, rhs","t":5.68,"value":52.9},{"series":"Manufacturing PMI new orders, rhs","t":5.74,"value":53.1},{"series":"Manufacturing PMI new orders, rhs","t":5.8,"value":51.1},{"series":"Manufacturing PMI new orders, rhs","t":5.87,"value":50.2},{"series":"Manufacturing PMI new orders, rhs","t":5.93,"value":49.8},{"series":"Manufacturing PMI new orders, rhs","t":5.99,"value":51.2},{"series":"Manufacturing PMI new orders, rhs","t":6.05,"value":51.4},{"series":"Manufacturing PMI new orders, rhs","t":6.12,"value":52.4},{"series":"Manufacturing PMI new orders, rhs","t":6.18,"value":52.4},{"series":"Manufacturing PMI new orders, rhs","t":6.24,"value":52.2},{"series":"Manufacturing PMI new orders, rhs","t":6.3,"value":52.5},{"series":"Manufacturing PMI new orders, rhs","t":6.37,"value":50.3},{"series":"Manufacturing PMI new orders, rhs","t":6.43,"value":50.6},{"series":"Manufacturing PMI new orders, rhs","t":6.49,"value":51.2},{"series":"Manufacturing PMI new orders, rhs","t":6.55,"value":52.9},{"series":"Manufacturing PMI new orders, rhs","t":6.62,"value":52.5},{"series":"Manufacturing PMI new orders, rhs","t":6.68,"value":52.8},{"series":"Manufacturing PMI new orders, rhs","t":6.74,"value":52.5},{"series":"Manufacturing PMI new orders, rhs","t":6.8,"value":52.4},{"series":"Manufacturing PMI new orders, rhs","t":6.87,"value":52.2},{"series":"Manufacturing PMI new orders, rhs","t":6.93,"value":52.5},{"series":"Manufacturing PMI new orders, rhs","t":6.99,"value":51.9},{"series":"Manufacturing PMI new orders, rhs","t":7.05,"value":51.5},{"series":"Manufacturing PMI new orders, rhs","t":7.1,"value":51.2},{"series":"Manufacturing PMI new orders, rhs","t":7.16,"value":51.2},{"series":"Manufacturing PMI new orders, rhs","t":7.22,"value":51.0},{"series":"Manufacturing PMI new orders, rhs","t":7.27,"value":50.7},{"series":"Manufacturing PMI new orders, rhs","t":7.33,"value":50.6},{"series":"Manufacturing PMI new orders, rhs","t":7.37,"value":50.9},{"series":"Manufacturing PMI new orders, rhs","t":7.43,"value":50.3},{"series":"Manufacturing PMI new orders, rhs","t":7.48,"value":50.7},{"series":"Manufacturing PMI new orders, rhs","t":7.53,"value":49.3},{"series":"Manufacturing PMI new orders, rhs","t":7.59,"value":49.0},{"series":"Manufacturing PMI new orders, rhs","t":7.64,"value":49.6},
      {"series":"Real GDP growth, year-on-year, %","t":0,"value":7.72},{"series":"Real GDP growth, year-on-year, %","t":0.16,"value":7.78},{"series":"Real GDP growth, year-on-year, %","t":0.33,"value":8.43},{"series":"Real GDP growth, year-on-year, %","t":0.52,"value":9.11},{"series":"Real GDP growth, year-on-year, %","t":0.7,"value":8.78},{"series":"Real GDP growth, year-on-year, %","t":0.9,"value":9.32},{"series":"Real GDP growth, year-on-year, %","t":1.08,"value":9.3},{"series":"Real GDP growth, year-on-year, %","t":1.25,"value":9.78},{"series":"Real GDP growth, year-on-year, %","t":1.43,"value":10.52},{"series":"Real GDP growth, year-on-year, %","t":1.62,"value":10.02},{"series":"Real GDP growth, year-on-year, %","t":1.8,"value":10.38},{"series":"Real GDP growth, year-on-year, %","t":1.98,"value":9.46},{"series":"Real GDP growth, year-on-year, %","t":2.16,"value":8.39},{"series":"Real GDP growth, year-on-year, %","t":2.34,"value":7.2},{"series":"Real GDP growth, year-on-year, %","t":2.53,"value":3.37},{"series":"Real GDP growth, year-on-year, %","t":2.73,"value":1.73},{"series":"Real GDP growth, year-on-year, %","t":2.91,"value":3.37},{"series":"Real GDP growth, year-on-year, %","t":3.08,"value":4.92},{"series":"Real GDP growth, year-on-year, %","t":3.27,"value":6.85},{"series":"Real GDP growth, year-on-year, %","t":3.45,"value":9.9},{"series":"Real GDP growth, year-on-year, %","t":3.63,"value":9.17},{"series":"Real GDP growth, year-on-year, %","t":3.83,"value":8.24},{"series":"Real GDP growth, year-on-year, %","t":4.01,"value":8.34},{"series":"Real GDP growth, year-on-year, %","t":4.2,"value":8.24},{"series":"Real GDP growth, year-on-year, %","t":4.38,"value":7.33},{"series":"Real GDP growth, year-on-year, %","t":4.58,"value":7.04},{"series":"Real GDP growth, year-on-year, %","t":4.78,"value":6.46},{"series":"Real GDP growth, year-on-year, %","t":4.95,"value":6.08},{"series":"Real GDP growth, year-on-year, %","t":5.12,"value":5.63},{"series":"Real GDP growth, year-on-year, %","t":5.33,"value":5.79},{"series":"Real GDP growth, year-on-year, %","t":5.49,"value":5.69},{"series":"Real GDP growth, year-on-year, %","t":5.7,"value":5.59},{"series":"Real GDP growth, year-on-year, %","t":5.87,"value":5.69},{"series":"Real GDP growth, year-on-year, %","t":6.03,"value":6.08},{"series":"Real GDP growth, year-on-year, %","t":6.2,"value":5.59},{"series":"Real GDP growth, year-on-year, %","t":6.41,"value":5.65},{"series":"Real GDP growth, year-on-year, %","t":6.62,"value":5.75},{"series":"Real GDP growth, year-on-year, %","t":6.78,"value":5.59},{"series":"Real GDP growth, year-on-year, %","t":6.95,"value":5.21},{"series":"Real GDP growth, year-on-year, %","t":7.16,"value":5.11},{"series":"Real GDP growth, year-on-year, %","t":7.33,"value":4.96},{"series":"Real GDP growth, year-on-year, %","t":7.49,"value":4.82}
    ]
  },
  "spacing": 10,
  "resolve": {"scale": {"color": "independent"}, "legend": {"color": "independent"}},
  "vconcat": [
    {
      "spacing": 7,
      "resolve": {"scale": {"color": "independent"}, "legend": {"color": "independent"}},
      "vconcat": [
        {
          "spacing": 5,
          "resolve": {"scale": {"color": "independent"}, "legend": {"color": "independent"}},
          "vconcat": [
            {
              "bounds": "flush",
              "spacing": 79,
              "hconcat": [
                {"width": 1, "height": 1, "data": {"values": [{"blank": ""}]}, "mark": {"type": "text", "fontSize": 1}, "encoding": {"text": {"field": "blank"}}},
                {
                  "width": 746, "height": 52,
                  "title": {"text": ["Venezuela’s CDS spread is now at the same level as Greece’s three", "months before its default"], "anchor": "start", "frame": "group", "dx": -74, "orient": "top", "offset": -44, "font": "Lato", "fontSize": 27, "fontWeight": "bold", "color": "#0b2a6b", "lineHeight": 28},
                  "data": {"values": [{"blank": ""}]},
                  "mark": {"type": "text", "fontSize": 1},
                  "encoding": {"text": {"field": "blank"}}
                },
                {
                  "width": 52, "height": 52,
                  "data": {"values": [{"logo": "Deutsche Bank"}]},
                  "layer": [
                    {"mark": {"type": "point", "shape": "square", "size": 2116, "filled": false, "stroke": "#0018a8", "strokeWidth": 6, "opacity": 1}, "encoding": {}},
                    {"mark": {"type": "point", "shape": "M -0.62 0.55 L -0.27 0.55 L 0.62 -0.55 L 0.27 -0.55 Z", "size": 2116, "filled": true, "fill": "#0018a8", "strokeWidth": 0, "opacity": 1}, "encoding": {}}
                  ]
                }
              ]
            },
            {
              "bounds": "flush",
              "spacing": 79,
              "resolve": {"scale": {"color": "independent"}, "legend": {"color": "independent"}},
              "hconcat": [
                {"width": 1, "height": 1, "data": {"values": [{"blank": ""}]}, "mark": {"type": "text", "fontSize": 1}, "encoding": {"text": {"field": "blank"}}},
                {
                  "bounds": "flush",
                  "spacing": 158,
                  "resolve": {"scale": {"color": "independent"}, "legend": {"color": "independent"}},
                  "hconcat": [
                    {
                      "width": 341, "height": 210,
                      "title": {"text": ["Venezuela’s CDS spreads have risen to 9,500bps, the same level as", "Greek CDS spreads in late 2011, 3 months before its default"], "offset": 13, "lineHeight": 15},
                      "data": {"name": "cds"},
                      "mark": {"type": "line", "strokeWidth": 2.5, "clip": true, "invalid": "break-paths-filter-domains"},
                      "encoding": {
                        "x": {"field": "year", "type": "quantitative", "scale": {"domain": [2010, 2016], "nice": false, "zero": false}, "axis": {"title": null, "values": [2010, 2011, 2012, 2013, 2014, 2015, 2016], "format": "d", "tickSize": 4, "labelPadding": 3, "labelFlush": false}},
                        "y": {"field": "bps", "type": "quantitative", "scale": {"domain": [0, 15672], "nice": false}, "axis": {"title": "bps", "values": [0, 2000, 4000, 6000, 8000, 10000, 12000, 14000], "format": "d", "domain": false, "ticks": false, "labelPadding": 9, "titleAngle": 0, "titleAlign": "left", "titleBaseline": "middle", "titleX": -29, "titleY": 3}},
                        "color": {"field": "series", "type": "nominal", "scale": {"domain": ["Venezuela 5-year CDS spread", "Greece 5-year CDS spread"], "range": ["#1f3f73", "#95b3d7"]}, "legend": {"orient": "none", "legendX": 188, "legendY": 24, "title": null, "symbolType": "stroke", "symbolSize": 484, "symbolStrokeWidth": 3, "rowPadding": 1}}
                      }
                    },
                    {
                      "width": 377, "height": 201,
                      "title": {"text": ["Venezuela’s total foreign debt is at around $70bn,", "according to BIS data"], "offset": -6, "lineHeight": 15, "dx": -17},
                      "data": {"name": "debt"},
                      "transform": [{"fold": ["Foreign bank claims", "Foreign debt securities"], "as": ["series", "usd"]}],
                      "mark": {"type": "area", "opacity": 1},
                      "encoding": {
                        "x": {"field": "year", "type": "quantitative", "scale": {"domain": [1999, 2015], "nice": false, "zero": false}, "axis": {"title": null, "values": [1999, 2001, 2003, 2005, 2007, 2009, 2011, 2013, 2015], "format": "d", "tickSize": 4, "labelPadding": 3, "labelFlush": false}},
                        "y": {"field": "usd", "type": "quantitative", "stack": "zero", "scale": {"domain": [0, 80], "nice": false}, "axis": {"title": "USD bn", "values": [0, 10, 20, 30, 40, 50, 60, 70, 80], "domain": false, "ticks": false, "labelPadding": 9, "titleAngle": 0, "titleAlign": "left", "titleBaseline": "middle", "titleX": -19, "titleY": -15}},
                        "color": {"field": "series", "type": "nominal", "scale": {"domain": ["Foreign bank claims", "Foreign debt securities"], "range": ["#1f4472", "#95b3d7"]}, "legend": {"orient": "none", "legendX": 66, "legendY": 24, "title": null, "symbolType": "square", "symbolSize": 49, "symbolStrokeWidth": 0, "symbolOpacity": 1, "rowPadding": 7}},
                        "order": {"field": "series", "sort": "ascending"}
                      }
                    }
                  ]
                }
              ]
            }
          ]
        },
        {
          "bounds": "flush",
          "spacing": 79,
          "resolve": {"scale": {"color": "independent"}, "legend": {"color": "independent"}},
          "hconcat": [
            {"width": 1, "height": 1, "data": {"values": [{"blank": ""}]}, "mark": {"type": "text", "fontSize": 1}, "encoding": {"text": {"field": "blank"}}},
            {
              "bounds": "flush",
              "spacing": 205,
              "resolve": {"scale": {"color": "independent"}, "legend": {"color": "independent"}},
              "hconcat": [
                {
                  "width": 318, "height": 192,
                  "title": {"text": ["EM capital flight is running at the fastest pace since", "2009…"], "offset": 14, "lineHeight": 17, "dx": 5},
                  "layer": [
                    {
                      "data": {"values": [{"level": 0}]},
                      "mark": {"type": "rule", "color": "#a6a6a6", "strokeWidth": 1.5},
                      "encoding": {"y": {"field": "level", "type": "quantitative", "scale": {"domain": [-6, 3], "nice": false}, "axis": null}}
                    },
                    {
                      "data": {"name": "flight"},
                      "transform": [{"filter": "datum.series === 'EM capital flight, % of GDP'"}],
                      "mark": {"type": "line", "strokeWidth": 2},
                      "encoding": {
                        "x": {"field": "year", "type": "quantitative", "scale": {"domain": [1996, 2016], "nice": false, "zero": false}, "axis": {"title": null, "values": [1996, 2000, 2004, 2008, 2012, 2016], "format": "d", "domain": false, "ticks": false, "labelPadding": 8, "labelFlush": false}},
                        "y": {"field": "value", "type": "quantitative", "scale": {"domain": [-6, 3], "nice": false}, "axis": {"title": null, "values": [-6, -5, -4, -3, -2, -1, 0, 1, 2, 3], "labelExpr": "datum.value + '%'", "domain": false, "ticks": false, "labelPadding": 11}},
                        "color": {"field": "series", "type": "nominal", "scale": {"domain": ["EM capital flight, % of GDP", "EM USD debt, % of GDP, chg yoy (rhs)"], "range": ["#1f3f73", "#95b3d7"]}, "legend": {"orient": "none", "legendX": 38, "legendY": -4, "title": null, "symbolType": "stroke", "symbolSize": 484, "symbolStrokeWidth": 2.5, "rowPadding": -5}}
                      }
                    },
                    {
                      "data": {"name": "flight"},
                      "transform": [{"filter": "datum.series === 'EM USD debt, % of GDP, chg yoy (rhs)'"}],
                      "mark": {"type": "line", "strokeWidth": 2},
                      "encoding": {
                        "x": {"field": "year", "type": "quantitative", "scale": {"domain": [1996, 2016], "nice": false, "zero": false}},
                        "y": {"field": "value", "type": "quantitative", "scale": {"domain": [-2, 3], "nice": false}, "axis": {"title": null, "orient": "right", "values": [3, 2.375, 1.75, 1.125, 0.5, -0.125, -0.75, -1.375, -2], "labelExpr": "(round(datum.value) < 0 ? '-' : '') + abs(round(datum.value)) + '%'", "domain": false, "ticks": false, "labelPadding": 3}},
                        "color": {"field": "series", "type": "nominal", "scale": {"domain": ["EM capital flight, % of GDP", "EM USD debt, % of GDP, chg yoy (rhs)"], "range": ["#1f3f73", "#95b3d7"]}}
                      }
                    }
                  ],
                  "resolve": {"scale": {"y": "independent"}}
                },
                {
                  "width": 308, "height": 184,
                  "title": {"text": ["…while PMIs are indicating a sharp slowdown in", "emerging market GDP growth"], "offset": 15, "lineHeight": 16, "dx": 2},
                  "layer": [
                    {
                      "data": {"name": "pmi"},
                      "transform": [{"filter": "datum.series === 'Manufacturing PMI new orders, rhs'"}],
                      "mark": {"type": "line", "strokeWidth": 2, "clip": true},
                      "encoding": {
                        "x": {"field": "t", "type": "quantitative", "scale": {"domain": [0, 7.7], "nice": false, "zero": false}, "axis": {"title": null, "values": [0, 1, 2, 3, 4, 5, 6, 7], "labelExpr": "['2005','2006','2008','2009','2010','2012','2013','2014'][datum.value]", "tickSize": 3, "labelPadding": 3, "labelFlush": false}},
                        "y": {"field": "value", "type": "quantitative", "scale": {"domain": [46, 60.31], "nice": false, "zero": false}, "axis": {"title": null, "values": [46, 48, 50, 52, 54, 56, 58, 60], "domain": false, "ticks": false, "labelPadding": 8}},
                        "color": {"field": "series", "type": "nominal", "scale": {"domain": ["Manufacturing PMI new orders, rhs", "Real GDP growth, year-on-year, %"], "range": ["#95b3d7", "#1f3f73"]}, "legend": {"orient": "none", "legendX": 100, "legendY": -12, "title": null, "symbolType": "stroke", "symbolSize": 484, "symbolStrokeWidth": 2.5, "rowPadding": -5}}
                      }
                    },
                    {
                      "data": {"name": "pmi"},
                      "transform": [{"filter": "datum.series === 'Real GDP growth, year-on-year, %'"}],
                      "mark": {"type": "line", "strokeWidth": 2},
                      "encoding": {
                        "x": {"field": "t", "type": "quantitative", "scale": {"domain": [0, 7.7], "nice": false, "zero": false}},
                        "y": {"field": "value", "type": "quantitative", "scale": {"domain": [1, 11.65], "nice": false, "zero": false}, "axis": {"title": null, "orient": "right", "values": [1, 2, 3, 4, 5, 6, 7, 8, 9, 10, 11], "labelExpr": "datum.value + '%'", "domain": false, "ticks": false, "labelPadding": 4}},
                        "color": {"field": "series", "type": "nominal", "scale": {"domain": ["Manufacturing PMI new orders, rhs", "Real GDP growth, year-on-year, %"], "range": ["#95b3d7", "#1f3f73"]}}
                      }
                    },
                    {
                      "data": {"values": [{"t0": 6.84, "t1": 7.82, "lo": 1.98, "hi": 5.88}]},
                      "mark": {"type": "rect", "fill": "transparent", "stroke": "#ff2020", "strokeDash": [4, 3], "strokeWidth": 1.3},
                      "encoding": {
                        "x": {"field": "t0", "type": "quantitative", "scale": {"domain": [0, 7.7], "nice": false, "zero": false}},
                        "x2": {"field": "t1"},
                        "y": {"field": "lo", "type": "quantitative", "scale": {"domain": [1, 11.65], "nice": false, "zero": false}, "axis": null},
                        "y2": {"field": "hi"}
                      }
                    }
                  ],
                  "resolve": {"scale": {"y": "independent"}}
                }
              ]
            }
          ]
        }
      ]
    },
    {
      "bounds": "flush",
      "spacing": 32,
      "hconcat": [
        {"width": 1, "height": 1, "data": {"values": [{"blank": ""}]}, "mark": {"type": "text", "fontSize": 1}, "encoding": {"text": {"field": "blank"}}},
        {
          "bounds": "flush",
          "spacing": 0,
          "hconcat": [
            {"width": 109, "height": 1, "view": {"stroke": "#999999", "strokeWidth": 1.2}, "title": {"text": "Deutsche Bank", "orient": "bottom", "anchor": "start", "frame": "group", "dx": 3, "offset": 6, "baseline": "top", "font": "Liberation Sans", "fontWeight": "normal", "fontSize": 10.6, "color": "#2a2aa5"}, "data": {"values": [{"blank": ""}]}, "mark": {"type": "text", "fontSize": 1}, "encoding": {"text": {"field": "blank"}}},
            {"width": 166, "height": 1, "view": {"stroke": "#999999", "strokeWidth": 1.2}, "title": {"text": "European Equity Strategy", "orient": "bottom", "anchor": "start", "frame": "group", "dx": 0, "offset": 6, "baseline": "top", "font": "Liberation Sans", "fontWeight": "normal", "fontSize": 10.6, "color": "#3d8fd9"}, "data": {"values": [{"blank": ""}]}, "mark": {"type": "text", "fontSize": 1}, "encoding": {"text": {"field": "blank"}}},
            {"width": 302, "height": 1, "view": {"stroke": "#999999", "strokeWidth": 1.2}, "title": {"text": "15 February 2016", "orient": "bottom", "anchor": "start", "frame": "group", "dx": 0, "offset": 6, "baseline": "top", "font": "Liberation Sans", "fontWeight": "normal", "fontSize": 10.6, "color": "#3d8fd9"}, "data": {"values": [{"blank": ""}]}, "mark": {"type": "text", "fontSize": 1}, "encoding": {"text": {"field": "blank"}}},
            {"width": 323, "height": 1, "view": {"stroke": "#999999", "strokeWidth": 1.2}, "title": {"text": "Source: Bloomberg Finance LP, Datastream, Deutsche Bank", "orient": "bottom", "anchor": "start", "frame": "group", "dx": 0, "offset": 4, "baseline": "top", "font": "Lato", "fontStyle": "italic", "fontWeight": "normal", "fontSize": 13, "color": "#111111"}, "data": {"values": [{"blank": ""}]}, "mark": {"type": "text", "fontSize": 1}, "encoding": {"text": {"field": "blank"}}},
            {"width": 30, "height": 1, "title": {"text": "12", "orient": "bottom", "anchor": "start", "frame": "group", "dx": 15, "offset": 6, "baseline": "top", "font": "Liberation Sans", "fontWeight": "normal", "fontSize": 11, "color": "#111111"}, "data": {"values": [{"blank": ""}]}, "mark": {"type": "text", "fontSize": 1}, "encoding": {"text": {"field": "blank"}}}
          ]
        }
      ]
    }
  ]
}
